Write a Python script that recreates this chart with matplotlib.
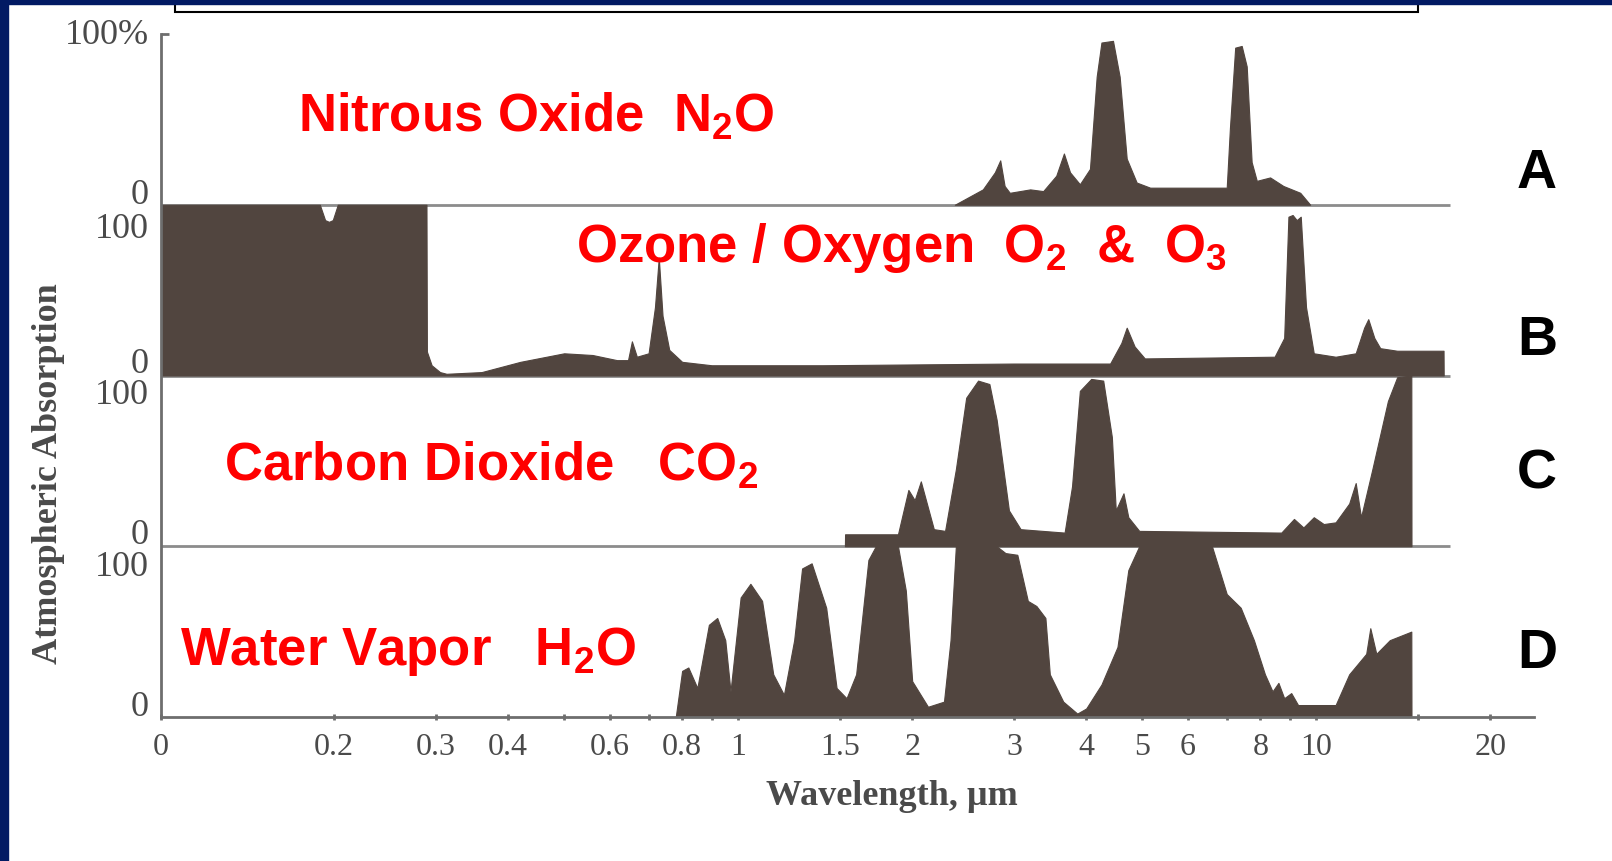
import matplotlib
matplotlib.use("Agg")
import matplotlib.pyplot as plt
from matplotlib.patches import Rectangle
from matplotlib.ticker import FixedLocator, NullFormatter

plt.rcParams['font.family'] = 'Liberation Serif'
plt.rcParams['mathtext.default'] = 'regular'

# absorption (%) against wavelength (um)
n2o_wl = [2.37, 2.65, 2.78, 2.84, 2.89, 2.95, 3.20, 3.37, 3.55, 3.66,
          3.75, 3.90, 4.06, 4.17, 4.25, 4.45, 4.57, 4.70, 4.89, 5.16,
          7.0, 7.09, 7.24, 7.43, 7.58, 7.73, 7.89, 8.32, 8.77, 9.38, 9.76]
n2o_abs = [0, 9, 19, 26, 11, 7, 9, 8, 17, 30,
           19, 12, 21, 75, 95, 96, 75, 27, 13, 10,
           10, 45, 92, 93, 81, 25, 14, 16, 11, 7, 0]

o3_wl = [0.1004, 0.189, 0.193, 0.196, 0.199, 0.203, 0.289, 0.2895, 0.295, 0.305,
         0.313, 0.36, 0.42, 0.5, 0.56, 0.617, 0.645, 0.655, 0.668, 0.70,
         0.718, 0.729, 0.74, 0.76, 0.80, 0.9, 1.4, 3.0, 4.4, 4.6,
         4.7, 4.85, 5.05, 8.47, 8.8, 8.95, 9.1, 9.25, 9.4, 9.6,
         9.9, 10.8, 11.7, 12.1, 12.3, 12.6, 12.9, 13.8, 16.6, 16.61]
o3_abs = [100, 100, 91, 90, 91, 100, 100, 14, 6, 2,
          1, 2, 8, 13, 12, 9, 9, 20, 11, 13,
          40, 69, 35, 15, 8, 6, 6, 7, 7, 19,
          28, 17, 10, 11, 22, 93, 94, 91, 93, 40,
          13, 11, 13, 28, 33, 22, 16, 14.5, 14.5, 0]

co2_wl = [1.53, 1.531, 1.89, 1.97, 2.02, 2.07, 2.18, 2.28, 2.38, 2.48,
          2.6, 2.72, 2.8, 2.94, 3.08, 3.67, 3.78, 3.90, 4.08, 4.28,
          4.43, 4.5, 4.64, 4.73, 4.94, 8.7, 9.15, 9.5, 9.9, 10.3,
          10.8, 11.4, 11.7, 11.95, 12.5, 13.3, 13.8, 14.6, 14.61]
co2_abs = [0, 7, 7, 33, 27, 38, 10, 9, 45, 87,
           97, 95, 74, 21, 10, 8, 35, 91, 98, 97,
           64, 21, 31, 17, 9, 8, 16, 11, 17, 13,
           14, 25, 37, 17, 45, 85, 99, 100, 0]

h2o_wl = [0.78, 0.80, 0.82, 0.85, 0.89, 0.92, 0.95, 0.97, 1.01, 1.05,
          1.10, 1.15, 1.20, 1.25, 1.29, 1.34, 1.42, 1.48, 1.54, 1.60,
          1.68, 1.73, 1.89, 1.95, 2.0, 2.13, 2.27, 2.33, 2.38, 2.8,
          2.9, 3.04, 3.17, 3.28, 3.4, 3.46, 3.65, 3.86, 4.0, 4.25,
          4.53, 4.73, 4.94, 6.6, 7.0, 7.4, 7.8, 8.15, 8.4, 8.6,
          8.8, 9.05, 9.3, 10.8, 11.4, 12.2, 12.4, 12.7, 13.4, 14.6, 14.61]
h2o_abs = [0, 27, 29, 17, 54, 58, 45, 15, 70, 78,
           68, 25, 13, 45, 87, 90, 64, 17, 11, 25,
           92, 100, 100, 74, 21, 6, 9, 45, 100, 100,
           96, 95, 68, 65, 58, 25, 9, 2, 5, 19,
           41, 86, 100, 100, 72, 64, 45, 25, 15, 20,
           11, 14, 7, 7, 25, 37, 52, 37, 45, 50, 0]

tick_pos = [0.1004, 0.2, 0.3, 0.4, 0.6, 0.8, 1, 1.5, 2, 3, 4, 5, 6, 8, 10, 20]
tick_lbl = ['0', '0.2', '0.3', '0.4', '0.6', '0.8', '1', '1.5', '2', '3',
            '4', '5', '6', '8', '10', '20']
minor_pos = [0.5, 0.7, 0.9, 7, 9, 15]

gas_names = [r'Nitrous Oxide  N$_2$O', r'Ozone / Oxygen  O$_2$  &  O$_3$',
             r'Carbon Dioxide   CO$_2$', r'Water Vapor   H$_2$O']
panel_ids = ['A', 'B', 'C', 'D']

W, H = 1612, 862
fill_col = '#51453f'
grey = '#6e6e6e'
txt_grey = '#4a4a4a'
navy = '#021a63'

fig = plt.figure(figsize=(W / 100, H / 100), dpi=100)
ax = fig.add_axes([161 / W, 144 / H, 1373 / W, 683 / H])
ax.set_xscale('log')
ax.set_xlim(0.1004, 23.8)
ax.set_ylim(0, 400)

# panels are stacked, each one 100 units tall
series = [(n2o_wl, n2o_abs), (o3_wl, o3_abs), (co2_wl, co2_abs), (h2o_wl, h2o_abs)]
for i, (wl, ab) in enumerate(series):
    base = 300 - 100 * i
    top = [base + a for a in ab]
    ax.fill_between(wl, base, top, color=fill_col, lw=0.8, edgecolor=fill_col, zorder=2)
ax.hlines([100, 200, 300], 0.1004, 17.0, color='#8c8c8c', lw=2, zorder=1)

for s in ['top', 'right']:
    ax.spines[s].set_visible(False)
for s in ['left', 'bottom']:
    ax.spines[s].set_color(grey)
    ax.spines[s].set_linewidth(2)

ax.set_xticks(tick_pos)
ax.set_xticklabels(tick_lbl)
ax.xaxis.set_minor_locator(FixedLocator(minor_pos))
ax.xaxis.set_minor_formatter(NullFormatter())
ax.tick_params(axis='x', which='both', direction='inout', length=5, width=2,
               color=grey, labelsize=23, labelcolor=txt_grey, pad=8)
ax.set_yticks([400])
ax.set_yticklabels([''])
ax.tick_params(axis='y', direction='in', length=6, width=2, color=grey)

# the 0 / 100 labels of each panel
side_lbl = [('100%', 400), ('0', 306), ('100', 286), ('0', 207),
            ('100', 189), ('0', 107), ('100', 88), ('0', 6)]
for s, y in side_lbl:
    ax.text(-0.009, y, s, transform=ax.get_yaxis_transform(), ha='right',
            va='center', fontsize=26, color=txt_grey)

fig.text(49 / W, 1 - 474 / H, 'Atmospheric Absorption', rotation=90, ha='center',
         va='center', fontsize=26, fontweight='bold', color=txt_grey)
fig.text(892 / W, 1 - 797 / H, 'Wavelength, µm', ha='center', va='center',
         fontsize=26, fontweight='bold', color=txt_grey)

name_xy = [(298, 132), (576, 262), (224, 481), (180, 665)]
for name, (x, y) in zip(gas_names, name_xy):
    fig.text(x / W, 1 - y / H, name, ha='left', va='baseline', fontsize=38,
             fontweight='bold', color='#ff0000', family='Liberation Sans')

id_y = [174, 341, 475, 654]
for p, y in zip(panel_ids, id_y):
    fig.text(1537 / W, 1 - y / H, p, ha='center', va='center', fontsize=40,
             fontweight='bold', color='black', family='Liberation Sans')

# slide frame
fig.add_artist(Rectangle((175 / W, 1 - 13 / H), (1418 - 175) / W, 30 / H,
                         transform=fig.transFigure, facecolor='white',
                         edgecolor='black', lw=1.5, zorder=5))
fig.add_artist(Rectangle((0, 1 - 5 / H), 1, 5 / H, transform=fig.transFigure,
                         color=navy, zorder=6))
fig.add_artist(Rectangle((0, 0), 8 / W, 1, transform=fig.transFigure,
                         color=navy, zorder=6))

fig.savefig('out.png', dpi=100)
